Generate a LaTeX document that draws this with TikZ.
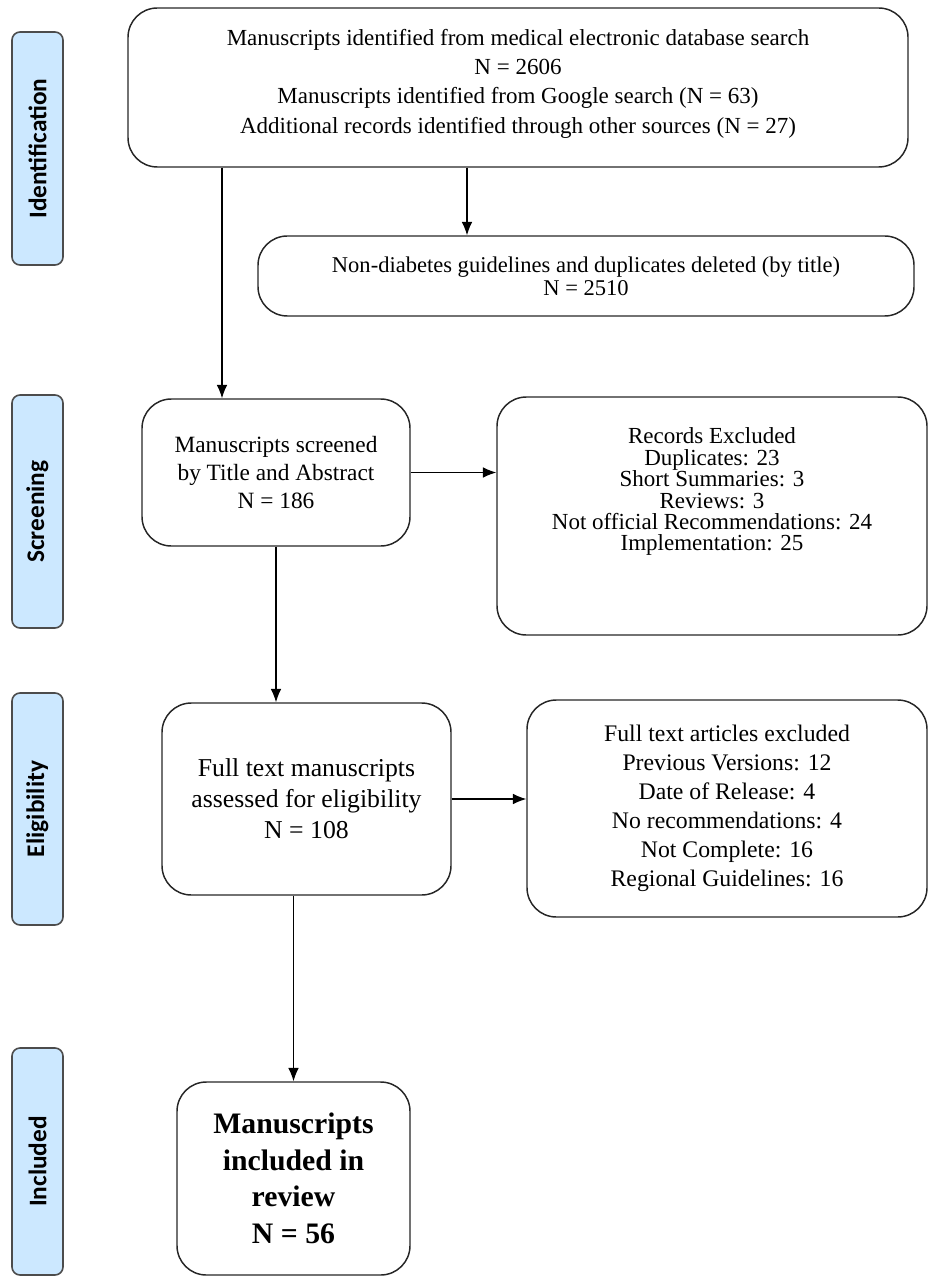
\documentclass[tikz,border=0pt]{standalone}
\usepackage{fontspec}
\setmainfont{Liberation Serif}
\setsansfont{Carlito}
\usepackage{tikz}
\usetikzlibrary{positioning, arrows.meta}
\definecolor{stageblue}{RGB}{204,232,255}

\begin{document}
\begin{tikzpicture}[
  x=0.75pt, y=-0.75pt,
  mynode/.style={draw=black!85, line width=1.1pt, rounded corners=22pt, align=center, inner sep=0pt},
  stage/.style={draw=black!70, line width=1.2pt, fill=stageblue, rounded corners=6pt, rotate=90,
    minimum height=38.25pt, inner sep=0pt, font=\sffamily\bfseries\fontsize{19}{22}\selectfont},
  flow/.style={line width=0.9pt, -{Latex[length=10pt,width=8pt]}}
]
\useasboundingbox (0,0) rectangle (928,1276);

% stage labels on the left
\node[stage, minimum width=174.75pt] (s1) at (37.5,148.5) {Identification};
\node[stage, minimum width=174.75pt] (s2) at (37.5,511.5) {Screening};
\node[stage, minimum width=174pt] (s3) at (37.5,809) {Eligibility};
\node[stage, minimum width=170.25pt] (s4) at (37.5,1161.5) {Included};

% flow boxes
\node[mynode, minimum width=585pt, minimum height=119.25pt, text depth=9.5pt, font=\fontsize{17.25}{22}\selectfont] (ident) at (518,87.5)
  {Manuscripts identified from medical electronic database search\\ N = 2606\\
   Manuscripts identified from Google search (N = 63)\\
   Additional records identified through other sources (N = 27)};
\node[mynode, minimum width=492pt, minimum height=60pt, font=\fontsize{16.9}{17.5}\selectfont] (dup) at (586,276)
  {Non-diabetes guidelines and duplicates deleted (by title)\\ N = 2510};
\node[mynode, minimum width=201pt, minimum height=110.25pt, font=\fontsize{17.5}{21}\selectfont] (screen) at (276,472.5)
  {Manuscripts screened\\ by Title and Abstract\\ N = 186};
\node[mynode, minimum width=322.5pt, minimum height=178.5pt, text depth=40pt, font=\fontsize{17.25}{16.1}\selectfont] (recex) at (712,516)
  {Records Excluded\\ Duplicates: 23\\ Short Summaries: 3\\ Reviews: 3\\
   Not official Recommendations: 24\\ Implementation: 25};
\node[mynode, minimum width=216.75pt, minimum height=144pt, font=\fontsize{19.3}{23.25}\selectfont] (elig) at (306.5,799)
  {Full text manuscripts\\ assessed for eligibility\\ N = 108};
\node[mynode, minimum width=300pt, minimum height=162.75pt, font=\fontsize{17.8}{21.75}\selectfont] (ftex) at (727,808.5)
  {Full text articles excluded\\ Previous Versions: 12\\ Date of Release: 4\\
   No recommendations: 4\\ Not Complete: 16\\ Regional Guidelines: 16};
\node[mynode, minimum width=174.75pt, minimum height=144.75pt, font=\bfseries\fontsize{22.3}{27.4}\selectfont] (incl) at (293.5,1178.5)
  {Manuscripts\\ included in\\ review\\ N = 56};

% arrows
\coordinate (a1) at ([shift={(-54,0)}]screen.north);
\coordinate (a2) at ([shift={(-119,0)}]dup.north);
\path (ident.south -| a1) edge[flow] (a1)
(ident.south -| a2) edge[flow] (a2)
(screen.east) edge[flow] (screen.east -| recex.west)
(screen.south) edge[flow] (screen.south |- elig.north)
(elig.east) edge[flow] (elig.east -| ftex.west)
(incl.north |- elig.south) edge[flow] (incl.north);

\end{tikzpicture}
\end{document}
